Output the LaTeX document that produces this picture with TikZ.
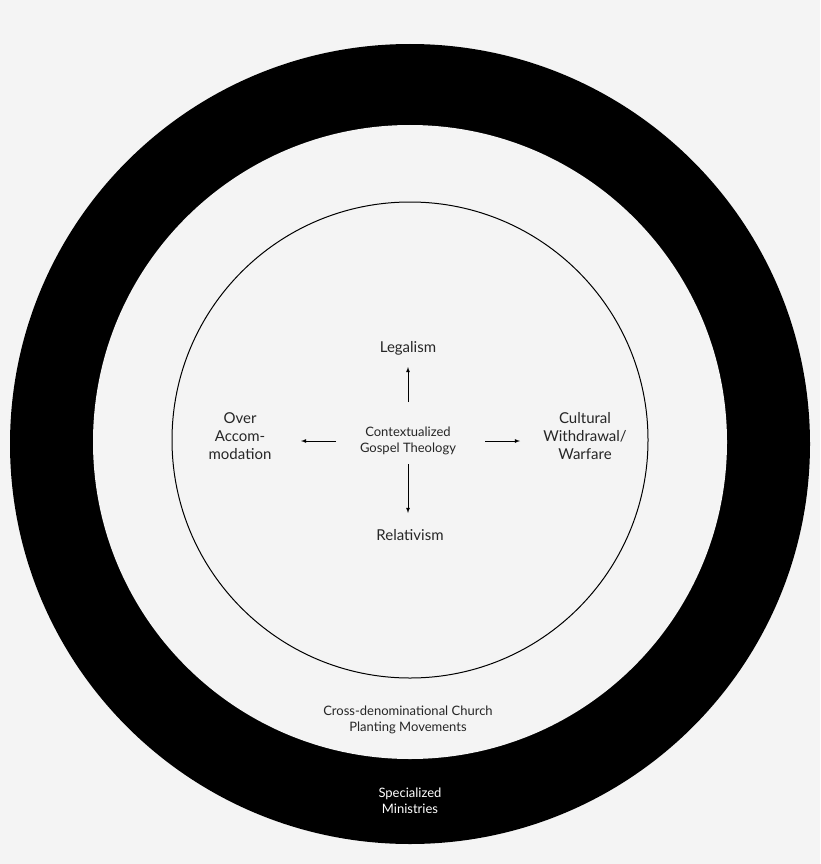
\documentclass[tikz,border=0pt]{standalone}
\usepackage{fontspec}
\setmainfont{Lato}
\begin{document}
\begin{tikzpicture}[x=1pt,y=-1pt,
  lbl/.style={font=\fontsize{15}{18}\selectfont, align=center, text=black!85},
  small/.style={font=\fontsize{13}{16}\selectfont, align=center, text=black!85},
  arr/.style={-latex, thick}]
\definecolor{bg}{HTML}{F4F4F4}
\fill[bg] (0,0) rectangle (820,864);
\useasboundingbox (0,0) rectangle (820,864);
\fill[black] (410,444) circle (400);
\fill[bg] (410,442) circle (317);
\draw[black, line width=1pt] (410,440) circle (238);
\node[small] (c) at (408,441) {Contextualized\\Gospel Theology};
\node[lbl] (leg) at (408,348) {Legalism};
\node[lbl] (rel) at (410,535) {Relativism};
\node[lbl] (over) at (240,436) {Over\\Accom-\\modation};
\node[lbl] (cult) at (585,436) {Cultural\\Withdrawal/\\Warfare};
\node[small] (cross) at (408,720) {Cross-denominational Church\\Planting Movements};
\node[small, text=white] (spec) at (410,801) {Specialized\\Ministries};
\coordinate (u0) at (408,402); \coordinate (u1) at (408,367);
\coordinate (d0) at (408,464); \coordinate (d1) at (408,513);
\coordinate (l0) at (336,441); \coordinate (l1) at (301,441);
\coordinate (r0) at (485,441); \coordinate (r1) at (520,441);
\draw[arr] (u0) -- (u1);
\draw[arr] (d0) -- (d1);
\draw[arr] (l0) -- (l1);
\draw[arr] (r0) -- (r1);
\end{tikzpicture}
\end{document}
